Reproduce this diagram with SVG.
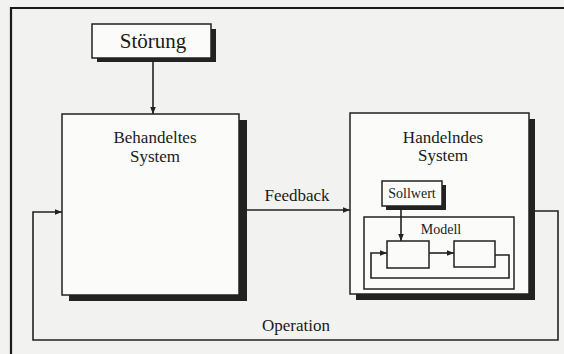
<svg xmlns="http://www.w3.org/2000/svg" width="564" height="354" viewBox="0 0 564 354">
<defs>
<marker id="ah" viewBox="0 0 10 10" refX="10" refY="5" markerWidth="7" markerHeight="7" markerUnits="userSpaceOnUse" orient="auto">
<path d="M0,1 L10,5 L0,9 Z" fill="#222"/>
</marker>
<style>
.box{fill:#fbfbfa;stroke:#222;stroke-width:1.5}
.sh{fill:#222}
.ln{fill:none;stroke:#222;stroke-width:1.6}
.t{font-family:"Liberation Serif","DejaVu Serif",serif;fill:#1a1a1a;text-anchor:middle}
</style>
</defs>
<rect x="0" y="0" width="564" height="354" fill="#f2f2f0"/>
<path d="M11,360 L11,8 L570,8" fill="none" stroke="#1a1a1a" stroke-width="2.2"/>

<g id="stoerung">
<rect class="sh" x="97" y="29" width="119" height="33"/>
<rect class="box" x="92" y="24" width="119" height="34"/>
<text class="t" x="153" y="48" font-size="21">Störung</text>
</g>

<g id="behandeltes">
<rect class="sh" x="69" y="120" width="178" height="181"/>
<rect class="box" x="62" y="114" width="177" height="181"/>
<text class="t" x="155" y="143" font-size="17">Behandeltes</text>
<text class="t" x="155" y="162" font-size="17">System</text>
</g>

<g id="handelndes">
<rect class="sh" x="356" y="119" width="179" height="181"/>
<rect class="box" x="350" y="113" width="179" height="181"/>
<text class="t" x="443" y="143" font-size="17">Handelndes</text>
<text class="t" x="443" y="161" font-size="17">System</text>
</g>

<g id="sollwert">
<rect class="sh" x="386" y="185" width="60" height="25"/>
<rect class="box" x="382" y="181" width="60" height="25"/>
<text class="t" x="412" y="198" font-size="14">Sollwert</text>
</g>

<g id="modell">
<rect class="box" x="364" y="217" width="150" height="72"/>
<text class="t" x="441" y="234" font-size="14">Modell</text>
</g>

<g id="block1">
<rect class="box" x="387" y="241" width="42" height="27"/>
</g>
<g id="block2">
<rect class="box" x="454" y="241" width="41" height="26"/>
</g>

<g id="connectors">
<line class="ln" x1="153" y1="62" x2="153" y2="114" marker-end="url(#ah)"/>
<line class="ln" x1="247" y1="210" x2="350" y2="210" marker-end="url(#ah)"/>
<text class="t" x="297" y="201" font-size="17">Feedback</text>
<path class="ln" d="M535,211 L558,211 L558,340 L33,340 L33,212 L62,212" marker-end="url(#ah)"/>
<text class="t" x="296" y="331" font-size="17">Operation</text>
<line class="ln" x1="401" y1="206" x2="401" y2="241" marker-end="url(#ah)"/>
<line class="ln" x1="429" y1="253" x2="454" y2="253" marker-end="url(#ah)"/>
<path class="ln" d="M495,255 L509,255 L509,278 L371,278 L371,253 L387,253" marker-end="url(#ah)"/>
</g>
</svg>
